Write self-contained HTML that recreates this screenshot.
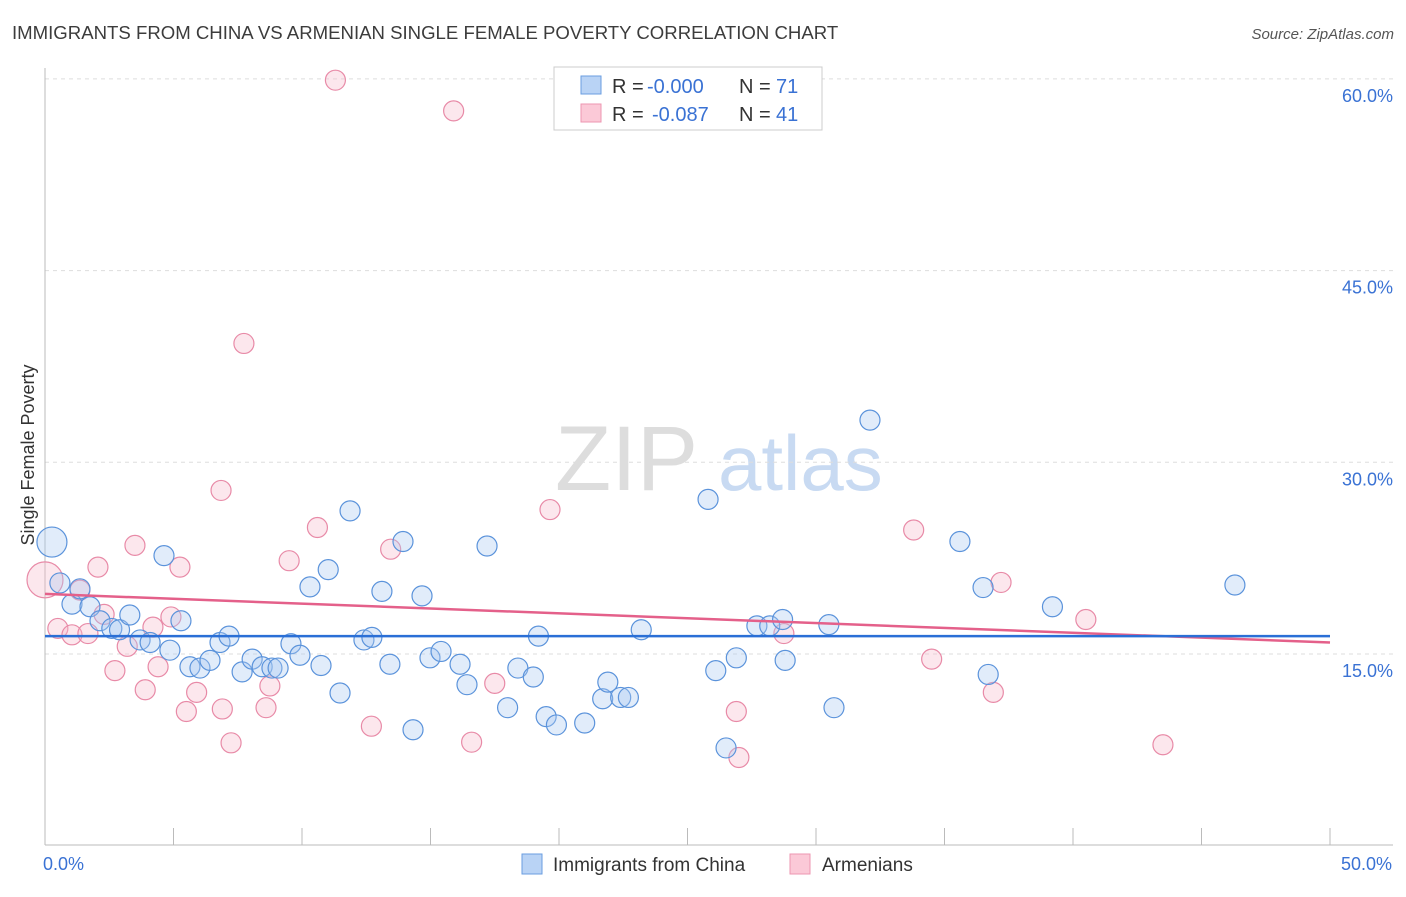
<!DOCTYPE html>
<html><head><meta charset="utf-8"><style>
body{margin:0;background:#fff;font-family:"Liberation Sans",sans-serif;}
svg text{font-family:"Liberation Sans",sans-serif;}
</style></head><body>
<svg id="chart" width="1406" height="892" xmlns="http://www.w3.org/2000/svg">
<text x="12" y="39" font-size="18.6" fill="#3c3c3c">IMMIGRANTS FROM CHINA VS ARMENIAN SINGLE FEMALE POVERTY CORRELATION CHART</text>
<text x="1394" y="39" font-size="15" fill="#555" text-anchor="end" font-style="italic">Source: ZipAtlas.com</text>
<text x="555" y="490" font-size="92" fill="#ddd" font-family="Liberation Serif">ZIP</text>
<text x="718" y="490" font-size="78" fill="#c8daf2">atlas</text>
<g id="grid"></g>
<g id="axes"></g>
<g id="pts"></g>
<g id="lines"></g>
<text transform="translate(34,455) rotate(-90)" font-size="18" fill="#333" text-anchor="middle">Single Female Poverty</text>
<g>
<rect x="554" y="67" width="268" height="63" fill="#fff" stroke="#ccc"/>
<rect x="581" y="76" width="20" height="18" fill="#b9d3f5" stroke="#6a9ee0"/>
<rect x="581" y="104" width="20" height="18" fill="#fbc9d7" stroke="#ec96b0"/>
<text x="612" y="93" font-size="20" fill="#333">R =</text>
<text x="647" y="93" font-size="20" fill="#3a72d4">-0.000</text>
<text x="739" y="93" font-size="20" fill="#333">N =</text>
<text x="776" y="93" font-size="20" fill="#3a72d4">71</text>
<text x="612" y="121" font-size="20" fill="#333">R =</text>
<text x="652" y="121" font-size="20" fill="#3a72d4">-0.087</text>
<text x="739" y="121" font-size="20" fill="#333">N =</text>
<text x="776" y="121" font-size="20" fill="#3a72d4">41</text>
</g>
<g>
<rect x="522" y="854" width="20" height="20" fill="#b9d3f5" stroke="#6a9ee0"/>
<text x="553" y="871" font-size="19" fill="#333">Immigrants from China</text>
<rect x="790" y="854" width="20" height="20" fill="#fbc9d7" stroke="#ec96b0"/>
<text x="822" y="871" font-size="19" fill="#333">Armenians</text>
</g>
</svg>
<script>
const yTicks=[15,30,45,60];
const yTickLabels=["15.0%","30.0%","45.0%","60.0%"];
const xTickLabels=["0.0%","50.0%"];
const chinaX=[0.27,0.58,1.05,1.36,1.75,2.14,2.6,2.9,3.3,3.7,4.09,4.63,4.86,5.29,5.64,6.03,6.42,6.81,7.16,7.67,8.06,8.45,8.83,9.07,9.57,9.92,10.31,10.74,11.02,11.48,11.87,12.41,12.72,13.11,13.42,13.93,14.32,14.67,14.98,15.41,16.15,16.42,17.2,18.0,18.4,19.0,19.2,19.5,19.9,21.0,21.7,21.9,22.4,22.7,23.2,25.8,26.1,26.5,26.9,27.7,28.2,28.7,28.8,30.5,30.7,32.1,35.6,36.5,36.7,39.2,46.3];
const chinaY=[23.76,20.56,18.9,20.1,18.7,17.6,17.0,16.9,18.05,16.1,15.9,22.7,15.3,17.6,14.0,13.9,14.5,15.9,16.4,13.6,14.6,14.0,13.9,13.9,15.8,14.9,20.25,14.1,21.6,11.95,26.2,16.1,16.3,19.9,14.2,23.8,9.07,19.55,14.7,15.2,14.2,12.6,23.45,10.8,13.9,13.2,16.4,10.1,9.45,9.6,11.5,12.8,11.6,11.6,16.9,27.1,13.7,7.65,14.7,17.2,17.2,17.7,14.5,17.3,10.8,33.3,23.8,20.2,13.4,18.7,20.4];
const armX=[0,0.5,1.05,1.36,1.67,2.06,2.3,2.72,3.2,3.5,3.9,4.2,4.4,4.9,5.25,5.5,5.9,6.85,6.9,7.24,7.74,8.6,8.75,9.5,10.6,11.3,12.7,13.45,15.9,16.6,17.5,19.65,26.9,27.0,28.75,33.8,34.5,36.9,37.2,40.5,43.5];
const armY=[20.8,17.0,16.5,20.0,16.6,21.8,18.1,13.7,15.6,23.5,12.2,17.1,14.0,17.9,21.8,10.5,12.0,27.8,10.7,8.05,39.3,10.8,12.5,22.3,24.9,59.9,9.35,23.2,57.5,8.1,12.7,26.3,10.5,6.9,16.6,24.7,14.6,12.0,20.6,17.7,7.9];
const chinaFit=[16.4,16.4];
const armFit=[19.7,15.9];
const fitX=[0,50];
const NS="http://www.w3.org/2000/svg";
const sx=v=>45+v/50*1285, sy=v=>845.7-v/15*191.7;
function mk(t,a,p){const e=document.createElementNS(NS,t);for(const k in a)e.setAttribute(k,a[k]);document.getElementById(p).appendChild(e);return e;}
yTicks.forEach((t,i)=>{
 const g=mk('line',{x1:45,x2:1393,y1:sy(t),y2:sy(t),stroke:'#ddd','stroke-dasharray':'4,4'},'grid');
 
 
 const l=mk('text',{x:1393,y:sy(t)+23,'font-size':18,fill:'#3a72d4','text-anchor':'end'},'grid');
 l.textContent=yTickLabels[i];
 
 
});
const ax=mk('line',{x1:45,x2:1393,y1:845,y2:845,stroke:'#bbb'},'axes');


const ay=mk('line',{x1:45,x2:45,y1:68,y2:845,stroke:'#bbb'},'axes');


for(let i=0;i<=10;i++){const t=mk('line',{x1:sx(i*5),x2:sx(i*5),y1:828,y2:845,stroke:'#bbb'},'axes');
 
 }
[[0,'start'],[50,'end']].forEach((d,i)=>{const t=mk('text',{x:sx(d[0])+(i?62:-2),y:870,'font-size':18,fill:'#3a72d4','text-anchor':d[1]},'axes');
 t.textContent=xTickLabels[i];
 
 });
function pts(X,Y,fill,stroke,name,big){X.forEach((x,i)=>{const r=(i===0)?big:10;
 const c=mk('circle',{cx:sx(x),cy:sy(Y[i]),r:r,fill:fill,'fill-opacity':0.35,stroke:stroke,'stroke-width':1.2},'pts');
 
 });}
pts(armX,armY,'#f7b9cb','#e88aa7','armenian-point',18);
pts(chinaX,chinaY,'#a9c8f0','#5b93db','china-point',15);
const l1=mk('line',{x1:sx(fitX[0]),x2:sx(fitX[1]),y1:sy(armFit[0]),y2:sy(armFit[1]),stroke:'#e4608a','stroke-width':2.5},'lines');


const l2=mk('line',{x1:sx(fitX[0]),x2:sx(fitX[1]),y1:sy(chinaFit[0]),y2:sy(chinaFit[1]),stroke:'#2a6fd6','stroke-width':2.5},'lines');


</script>
</body></html>
